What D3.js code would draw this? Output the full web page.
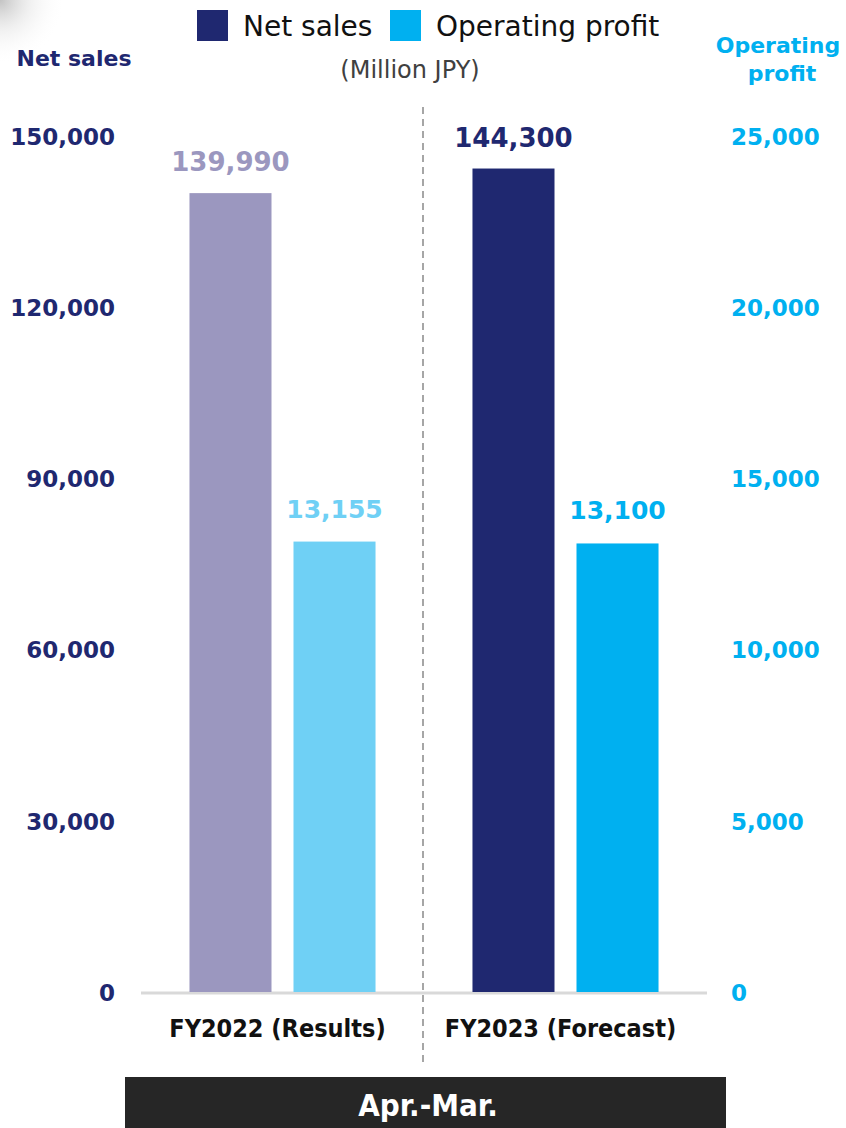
<!DOCTYPE html>
<html>
<head>
<meta charset="utf-8">
<script src="https://cdn.jsdelivr.net/npm/d3@7/dist/d3.min.js"></script>
<style>
  html, body { margin: 0; padding: 0; background: #fff; }
  svg { display: block; }
</style>
</head>
<body>
<svg id="chart" width="846" height="1128"></svg>
<script>
// Fiscal years and their figures (Million JPY)
const categories = ["FY2022 (Results)", "FY2023 (Forecast)"];
const netSales = [139990, 144300];
const operatingProfit = [13155, 13100];
const leftTicks = [0, 30000, 60000, 90000, 120000, 150000];
const rightTicks = [0, 5000, 10000, 15000, 20000, 25000];
const periodLabel = "Apr.-Mar.";

const NAVY = "#1f2870";
const CYAN = "#00b0f0";
// Results year drawn in lighter tints, forecast year in full colour
const salesColors = ["#9b97bf", NAVY];
const profitColors = ["#6fd0f5", CYAN];

const svg = d3.select("#chart");
const font = "'DejaVu Sans', Verdana, sans-serif";
const condensed = "'DejaVu Sans Condensed', 'DejaVu Sans', sans-serif";

// Soft shading in the top-left corner
const defs = svg.append("defs");
const rg = defs.append("radialGradient").attr("id", "corner")
  .attr("cx", 0).attr("cy", 0).attr("r", 1).attr("gradientUnits", "objectBoundingBox");
rg.append("stop").attr("offset", "0%").attr("stop-color", "#b8b8b8").attr("stop-opacity", 0.85);
rg.append("stop").attr("offset", "45%").attr("stop-color", "#dddddd").attr("stop-opacity", 0.45);
rg.append("stop").attr("offset", "100%").attr("stop-color", "#ffffff").attr("stop-opacity", 0);
svg.append("rect").attr("x", 0).attr("y", 0).attr("width", 65).attr("height", 65)
  .attr("fill", "url(#corner)");

// Scales
const x0 = d3.scaleBand().domain(categories).range([141, 707]);
const x1 = d3.scaleBand().domain(["sales", "profit"])
  .range([0, x0.bandwidth()]).paddingInner(0.2115).paddingOuter(0.466);
const yL = d3.scaleLinear().domain([0, 150000]).range([992, 136]);
const yR = d3.scaleLinear().domain([0, 25000]).range([992, 136]);
const fmt = d3.format(",");

// Left axis (Net sales)
const leftAxis = d3.axisLeft(yL).tickValues(leftTicks).tickFormat(fmt).tickSize(0).tickPadding(0);
const gL = svg.append("g").attr("transform", "translate(115,0)").call(leftAxis);
gL.select(".domain").remove();
gL.selectAll("text").attr("fill", NAVY).attr("font-family", font)
  .attr("font-weight", "bold").attr("font-size", 23).attr("dy", "0.36em");

// Right axis (Operating profit)
const rightAxis = d3.axisRight(yR).tickValues(rightTicks).tickFormat(fmt).tickSize(0).tickPadding(0);
const gR = svg.append("g").attr("transform", "translate(731,0)").call(rightAxis);
gR.select(".domain").remove();
gR.selectAll("text").attr("fill", CYAN).attr("font-family", font)
  .attr("font-weight", "bold").attr("font-size", 23).attr("dy", "0.36em");

// Axis titles
svg.append("text").attr("x", 74).attr("y", 66).attr("text-anchor", "middle")
  .attr("fill", NAVY).attr("font-family", font).attr("font-weight", "bold").attr("font-size", 22)
  .text("Net sales");
const rt = svg.append("text").attr("text-anchor", "middle")
  .attr("fill", CYAN).attr("font-family", font).attr("font-weight", "bold").attr("font-size", 22);
rt.append("tspan").attr("x", 778).attr("y", 53).text("Operating");
rt.append("tspan").attr("x", 782).attr("y", 81).text("profit");

// Dashed divider between years
svg.append("line").attr("x1", 423).attr("x2", 423).attr("y1", 107).attr("y2", 1062)
  .attr("stroke", "#a6a6a6").attr("stroke-width", 2).attr("stroke-dasharray", "7,5");

// Baseline
svg.append("line").attr("x1", 141).attr("x2", 707).attr("y1", yL(0) + 1).attr("y2", yL(0) + 1)
  .attr("stroke", "#d9d9d9").attr("stroke-width", 3);

// Bars
const groups = svg.selectAll("g.year").data(categories).enter().append("g")
  .attr("class", "year").attr("transform", d => `translate(${x0(d)},0)`);

groups.append("rect")
  .attr("x", x1("sales")).attr("width", x1.bandwidth())
  .attr("y", (d, i) => yL(netSales[i])).attr("height", (d, i) => yL(0) - yL(netSales[i]))
  .attr("fill", (d, i) => salesColors[i]);
groups.append("rect")
  .attr("x", x1("profit")).attr("width", x1.bandwidth())
  .attr("y", (d, i) => yR(operatingProfit[i])).attr("height", (d, i) => yR(0) - yR(operatingProfit[i]))
  .attr("fill", (d, i) => profitColors[i]);

// Value labels
groups.append("text")
  .attr("x", x1("sales") + x1.bandwidth() / 2).attr("y", (d, i) => yL(netSales[i]) - 22)
  .attr("text-anchor", "middle").attr("font-family", font).attr("font-weight", "bold")
  .attr("font-size", 26).attr("fill", (d, i) => salesColors[i])
  .text((d, i) => fmt(netSales[i]));
groups.append("text")
  .attr("x", x1("profit") + x1.bandwidth() / 2).attr("y", (d, i) => yR(operatingProfit[i]) - 24)
  .attr("text-anchor", "middle").attr("font-family", font).attr("font-weight", "bold")
  .attr("font-size", 25).attr("fill", (d, i) => profitColors[i])
  .text((d, i) => fmt(operatingProfit[i]));

// Category labels
groups.append("text")
  .attr("x", x0.bandwidth() / 2 - 5).attr("y", 1037)
  .attr("text-anchor", "middle").attr("font-family", condensed)
  .attr("font-weight", "bold").attr("font-size", 25).attr("fill", "#111")
  .text(d => d);

// Legend
const legendItems = [
  { label: "Net sales", color: NAVY, x: 197 },
  { label: "Operating profit", color: CYAN, x: 390 }
];
const lg = svg.append("g");
legendItems.forEach(it => {
  lg.append("rect").attr("x", it.x).attr("y", 10).attr("width", 31).attr("height", 31).attr("fill", it.color);
  lg.append("text").attr("x", it.x + 46).attr("y", 36).attr("font-family", font)
    .attr("font-size", 28).attr("fill", "#111").text(it.label);
});
svg.append("text").attr("x", 410).attr("y", 78).attr("text-anchor", "middle")
  .attr("font-family", font).attr("font-size", 24).attr("fill", "#404040").text("(Million JPY)");

// Period banner
svg.append("rect").attr("x", 125).attr("y", 1077).attr("width", 601).attr("height", 51).attr("fill", "#262626");
svg.append("text").attr("x", 428).attr("y", 1116).attr("text-anchor", "middle")
  .attr("font-family", condensed).attr("font-weight", "bold")
  .attr("font-size", 31).attr("fill", "#fff").text(periodLabel);
</script>
</body>
</html>
